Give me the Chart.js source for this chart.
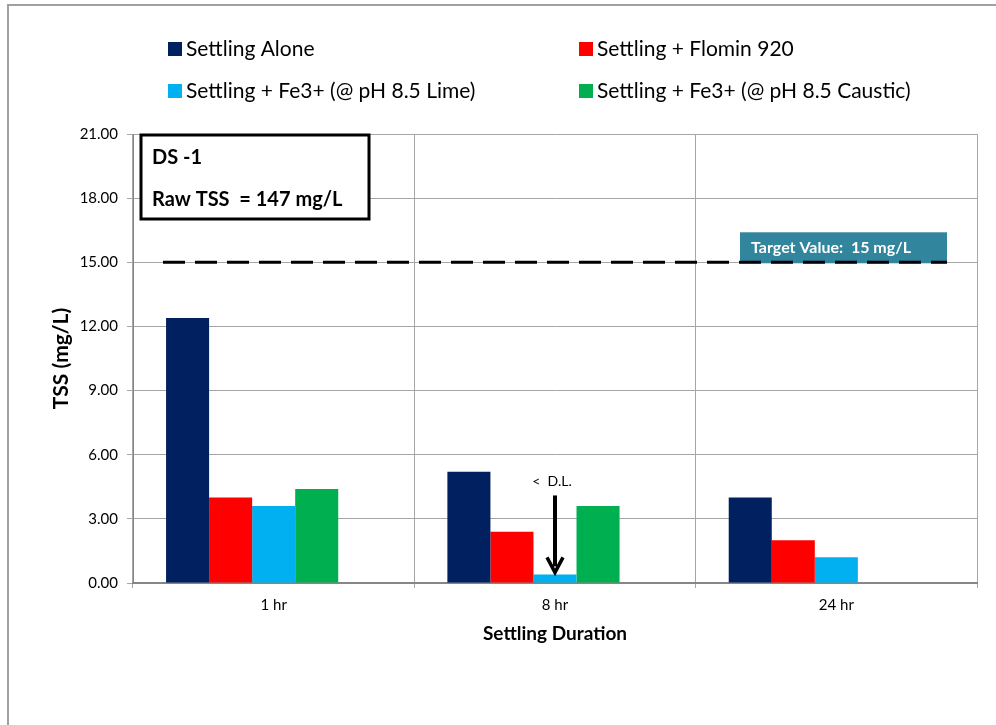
<!DOCTYPE html>
<html>
<head>
<meta charset="utf-8">
<script src="https://cdn.jsdelivr.net/npm/chart.js@4.4.0/dist/chart.umd.min.js"></script>
<style>
  html, body { margin: 0; padding: 0; background: #fff; }
  #wrap { width: 996px; height: 725px; }
</style>
</head>
<body>
<div id="wrap"><canvas id="tss_chart" width="996" height="725"></canvas></div>
<script>
// chart data
const durations = ["1 hr", "8 hr", "24 hr"];
const series_names = [
    "Settling Alone",
    "Settling + Flomin 920",
    "Settling + Fe3+ (@ pH 8.5 Lime)",
    "Settling + Fe3+ (@ pH 8.5 Caustic)"
];
const settling_alone = [12.4, 5.2, 4.0];
const flomin_920 = [4.0, 2.4, 2.0];
const fe3_lime = [3.6, 0.4, 1.2];
const fe3_caustic = [4.4, 3.6, null];
const y_ticks = [0, 3, 6, 9, 12, 15, 18, 21];
const target_value = 15;
const series_colors = ["#002060", "#FF0000", "#00B0F0", "#00B050"];

const FONT = "Lato, 'Open Sans', sans-serif";

// extra empty slot so groups sit like the excel chart (5 slots, 4 used)
const spacer = [null, null, null];

const all_values = [settling_alone, flomin_920, fe3_lime, fe3_caustic];
const datasets = all_values.map((vals, i) => ({
    label: series_names[i],
    data: vals,
    backgroundColor: series_colors[i],
    borderWidth: 0
}));
datasets.push({ label: "", data: spacer, backgroundColor: "rgba(0,0,0,0)" });

const extras = {
    id: "extras",
    beforeDraw(chart) {
        const ctx = chart.ctx;
        ctx.save();
        ctx.fillStyle = "#fff";
        ctx.fillRect(0, 0, chart.width, chart.height);
        // outer frame
        ctx.strokeStyle = "#A0A0A0";
        ctx.lineWidth = 2;
        ctx.strokeRect(8, 5, chart.width, chart.height);
        ctx.restore();
    },
    afterDraw(chart) {
        const ctx = chart.ctx;
        const area = chart.chartArea;
        const y = chart.scales.y;
        ctx.save();

        // legend, two columns
        ctx.font = "21px " + FONT;
        ctx.textBaseline = "middle";
        const cols = [168, 579];
        const rows = [49, 91];
        series_names.forEach((name, i) => {
            const lx = cols[i % 2], ly = rows[Math.floor(i / 2)];
            ctx.fillStyle = series_colors[i];
            ctx.fillRect(lx, ly - 7, 14, 14);
            ctx.fillStyle = "#000";
            ctx.textAlign = "left";
            ctx.fillText(name, lx + 18, ly);
        });

        // target box
        const ty = y.getPixelForValue(target_value);
        ctx.fillStyle = "#31859C";
        ctx.fillRect(area.right - 237, ty - 30, 207, 31);
        ctx.fillStyle = "#fff";
        ctx.font = "bold 16px " + FONT;
        ctx.textAlign = "left";
        ctx.fillText("Target Value:  15 mg/L", area.right - 226, ty - 14);

        // dashed target line
        ctx.strokeStyle = "#000";
        ctx.lineWidth = 3;
        ctx.setLineDash([22, 10]);
        ctx.beginPath();
        ctx.moveTo(area.left + 30, ty);
        ctx.lineTo(area.right - 30, ty);
        ctx.stroke();
        ctx.setLineDash([]);

        // DS box
        ctx.fillStyle = "#fff";
        ctx.fillRect(area.left + 8, area.top + 1, 228, 84);
        ctx.strokeStyle = "#000";
        ctx.lineWidth = 3;
        ctx.strokeRect(area.left + 8, area.top + 1, 228, 84);
        ctx.fillStyle = "#000";
        ctx.font = "bold 20px " + FONT;
        ctx.fillText("DS -1", area.left + 19, area.top + 24);
        ctx.fillText("Raw TSS  = 147 mg/L", area.left + 19, area.top + 66);

        // arrow to the below detection limit bar
        const bar = chart.getDatasetMeta(2).data[1];
        const tip = bar.y;
        ctx.strokeStyle = "#000";
        ctx.lineWidth = 4;
        ctx.beginPath();
        ctx.moveTo(bar.x, tip - 79);
        ctx.lineTo(bar.x, tip - 8);
        ctx.stroke();
        ctx.lineWidth = 3.5;
        ctx.beginPath();
        ctx.moveTo(bar.x - 8, tip - 17);
        ctx.lineTo(bar.x, tip - 2);
        ctx.lineTo(bar.x + 8, tip - 17);
        ctx.stroke();
        ctx.font = "14px " + FONT;
        ctx.textAlign = "center";
        ctx.fillText("<  D.L.", bar.x - 3, tip - 93);

        ctx.restore();
    }
};

const chart = new Chart(document.getElementById("tss_chart"), {
    type: "bar",
    data: { labels: durations, datasets: datasets },
    options: {
        responsive: false,
        animation: false,
        layout: { padding: { left: 0, top: 134, right: 19, bottom: 62 } },
        datasets: { bar: { categoryPercentage: 0.765, barPercentage: 1.0 } },
        plugins: { legend: { display: false }, tooltip: { enabled: false } },
        scales: {
            x: {
                afterFit: (s) => { s.height = 80; },
                grid: { offset: true, color: "#A6A6A6", tickLength: 5, lineWidth: 1 },
                border: { color: "#868686", width: 2 },
                ticks: { color: "#000", font: { family: FONT, size: 15 }, padding: 8 },
                title: {
                    display: true, text: "Settling Duration", color: "#000",
                    font: { family: FONT, size: 19, weight: "bold" },
                    padding: { top: 0, bottom: 18 }
                }
            },
            y: {
                min: 0, max: 21,
                afterFit: (s) => { s.width = 133; },
                afterBuildTicks: (s) => { s.ticks = y_ticks.map(v => ({ value: v })); },
                grid: { color: "#A6A6A6", tickLength: 6, lineWidth: 1 },
                border: { color: "#868686", width: 1 },
                ticks: {
                    color: "#000", font: { family: FONT, size: 15 }, padding: 9,
                    callback: (v) => Number(v).toFixed(2)
                },
                title: {
                    display: true, text: "TSS (mg/L)", color: "#000",
                    font: { family: FONT, size: 21, weight: "bold" },
                    padding: { top: 49, bottom: 0 }
                }
            }
        }
    },
    plugins: [extras]
});
</script>
</body>
</html>
